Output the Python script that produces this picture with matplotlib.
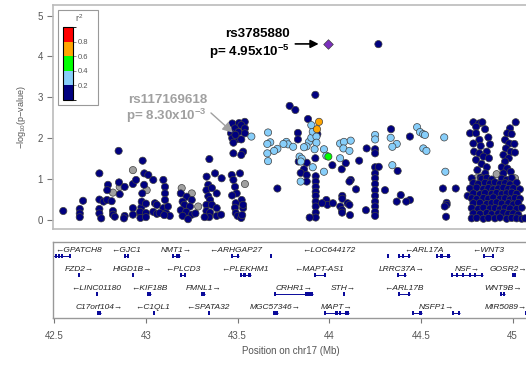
import numpy as np
import matplotlib
matplotlib.use("Agg")
import matplotlib.pyplot as plt
from matplotlib.colors import ListedColormap, BoundaryNorm
from matplotlib.cm import ScalarMappable
from matplotlib.patches import Rectangle

plt.rcParams["font.family"] = ["Liberation Sans", "DejaVu Sans"]
plt.rcParams["mathtext.fontset"] = "custom"
plt.rcParams["mathtext.rm"] = "Liberation Sans"
plt.rcParams["mathtext.bf"] = "Liberation Sans:bold"

# labelled SNPs
lead_name, lead_pos, lead_p = "rs3785880", 43.995, 4.95e-5
snp2_name, snp2_pos, snp2_p = "rs117169618", 43.488, 8.30e-3

# LD legend bins
r2_bounds = [0, 0.2, 0.4, 0.6, 0.8, 1.0]
r2_colors = ["#000080", "#87CEFA", "#00FF00", "#FFA500", "#FF0000"]

# (position Mb, -log10 p) per LD class
gray_snps = [
    (42.820, 0.67), (42.857, 0.81), (42.929, 1.22), (43.004, 0.73), (43.195, 0.78),
    (43.250, 0.65), (43.285, 0.33), (43.540, 0.88), (44.804, 1.02), (44.913, 1.12),
    (45.013, 1.02),
]
navy_snps = [
    # 42.5 - 43.0
    (42.549, 0.22), (42.639, 0.27), (42.639, 0.16), (42.639, 0.07), (42.657, 0.47),
    (42.746, 1.14), (42.746, 0.50), (42.746, 0.27), (42.746, 0.16), (42.756, 0.04),
    (42.769, 0.45), (42.788, 0.49), (42.793, 0.86), (42.789, 0.73), (42.813, 0.46),
    (42.820, 0.22), (42.820, 0.13), (42.851, 1.69), (42.853, 0.92), (42.857, 0.63),
    (42.884, 0.81), (42.884, 0.10), (42.929, 0.88), (42.946, 0.98), (42.929, 0.29),
    (42.929, 0.13), (42.969, 0.16), (42.975, 0.31), (42.982, 1.45), (42.830, 0.08),
    (42.880, 0.04),
    # 43.0 - 43.45
    (42.991, 1.14), (43.013, 1.10), (43.040, 0.98), (42.990, 0.86), (42.980, 0.65),
    (42.977, 0.45), (43.000, 0.40), (43.049, 0.41), (43.060, 0.37), (42.968, 0.20),
    (43.000, 0.17), (43.040, 0.20), (43.060, 0.15), (43.095, 0.98), (43.104, 0.81),
    (43.104, 0.65), (43.104, 0.49), (43.095, 0.29), (43.110, 0.17), (43.130, 0.10),
    (43.075, 0.17), (42.970, 0.05), (43.120, 0.33), (43.000, 0.07), (43.100, 0.12),
    (43.190, 0.65), (43.222, 0.57), (43.250, 0.49), (43.200, 0.45), (43.210, 0.37),
    (43.240, 0.33), (43.190, 0.24), (43.220, 0.20), (43.250, 0.13), (43.200, 0.10),
    (43.230, 0.02), (43.270, 0.16),
    (43.346, 1.49), (43.331, 1.06), (43.377, 1.14), (43.413, 1.02), (43.340, 0.86),
    (43.330, 0.73), (43.360, 0.78), (43.386, 0.65), (43.340, 0.58), (43.350, 0.49),
    (43.330, 0.37), (43.360, 0.37), (43.386, 0.29), (43.330, 0.22), (43.350, 0.18),
    (43.386, 0.10), (43.345, 0.07), (43.410, 0.13), (43.320, 0.07),
    # 43.45 - 43.55
    (43.471, 2.36), (43.508, 2.37), (43.486, 2.24), (43.464, 2.12), (43.505, 2.15),
    (43.471, 2.00), (43.500, 1.98), (43.477, 1.89), (43.539, 2.40), (43.520, 2.32),
    (43.540, 2.24), (43.540, 2.12), (43.520, 1.97), (43.477, 1.63), (43.530, 1.67),
    (43.520, 1.59), (43.468, 1.10), (43.513, 1.14), (43.477, 0.98), (43.486, 0.81),
    (43.495, 0.65), (43.470, 0.60), (43.522, 0.49), (43.490, 0.41), (43.486, 0.30),
    (43.530, 0.29), (43.490, 0.17), (43.500, 0.10), (43.520, 0.05), (43.530, 0.37),
    (43.525, 0.12),
    # 43.55 - 44.05
    (43.924, 3.06), (43.784, 2.79), (43.815, 2.69), (43.884, 2.47), (43.829, 2.13),
    (43.829, 1.97), (43.935, 2.10), (43.833, 1.43), (43.877, 1.40), (43.924, 1.51),
    (43.862, 1.24), (43.844, 1.15), (43.877, 1.10), (43.926, 1.07), (43.926, 0.94),
    (43.926, 0.81), (43.926, 0.69), (43.926, 0.59), (43.926, 0.45), (43.926, 0.33),
    (43.926, 0.18), (43.926, 0.06), (43.877, 0.94), (43.717, 0.77), (43.893, 0.06),
    (43.984, 0.49), (43.990, 0.37), (43.960, 0.41), (44.017, 1.34),
    # 44.05 - 44.75
    (44.204, 1.75), (44.163, 1.45), (44.090, 1.39), (44.068, 1.24), (44.250, 1.73),
    (44.250, 1.63), (44.250, 1.29), (44.270, 1.30), (44.250, 1.14), (44.250, 1.02),
    (44.250, 0.88), (44.250, 0.73), (44.250, 0.59), (44.250, 0.45), (44.250, 0.33),
    (44.250, 0.20), (44.250, 0.10), (44.337, 2.22), (44.440, 2.04), (44.373, 1.20),
    (44.304, 0.73), (44.117, 0.98), (44.110, 0.94), (44.146, 0.75), (44.071, 0.59),
    (44.071, 0.52), (44.100, 0.41), (44.110, 0.37), (44.060, 0.33), (44.070, 0.24),
    (44.070, 0.18), (44.113, 0.12), (44.020, 0.41), (44.200, 0.24), (44.390, 0.61),
    (44.368, 0.45), (44.440, 0.49), (44.420, 0.45), (44.268, 4.30), (44.620, 0.77),
    (44.690, 0.77), (44.640, 0.42), (44.640, 0.37), (44.630, 0.33), (44.637, 0.08),
    (44.755, 0.59),
    # 44.75 - 45.1, upper arms
    (44.786, 2.39), (44.817, 2.36), (44.835, 2.39), (44.801, 2.28), (44.768, 2.12),
    (44.801, 2.12), (44.850, 2.22), (44.868, 2.02), (44.819, 1.96), (44.786, 1.87),
    (44.826, 1.81), (44.877, 1.85), (44.790, 1.67), (44.819, 1.63), (44.859, 1.67),
    (44.841, 1.55), (44.801, 1.47), (44.871, 1.51), (44.831, 1.37), (44.859, 1.29),
    (44.808, 1.22), (44.851, 1.14), (44.826, 1.04),
    (45.017, 2.39), (44.986, 2.24), (44.971, 2.12), (44.995, 2.10), (44.959, 1.96),
    (44.982, 1.87), (45.010, 1.86), (44.964, 1.75), (44.990, 1.67), (44.950, 1.59),
    (44.979, 1.51), (44.959, 1.43), (45.013, 1.65), (44.941, 1.29), (44.971, 1.26),
    (44.990, 1.18), (44.950, 1.14),
    # 44.75 - 45.1, dense block
    (44.777, 1.02), (44.831, 1.00), (44.859, 1.03), (44.886, 0.99), (44.941, 1.01),
    (44.968, 0.98), (44.995, 1.03),
    (44.786, 0.90), (44.813, 0.88), (44.850, 0.91), (44.877, 0.89), (44.904, 0.92),
    (44.931, 0.88), (44.959, 0.90), (44.986, 0.87), (45.022, 0.91),
    (44.768, 0.77), (44.804, 0.79), (44.841, 0.76), (44.868, 0.78), (44.895, 0.75),
    (44.922, 0.77), (44.950, 0.79), (44.977, 0.76), (45.004, 0.78), (45.040, 0.75),
    (44.786, 0.65), (44.822, 0.63), (44.850, 0.66), (44.886, 0.64), (44.913, 0.66),
    (44.941, 0.63), (44.968, 0.65), (44.995, 0.67), (45.022, 0.64),
    (44.777, 0.53), (44.804, 0.51), (44.841, 0.54), (44.868, 0.52), (44.895, 0.55),
    (44.931, 0.52), (44.959, 0.53), (44.986, 0.50), (45.013, 0.54), (45.040, 0.52),
    (44.786, 0.41), (44.822, 0.42), (44.859, 0.39), (44.886, 0.41), (44.913, 0.43),
    (44.941, 0.40), (44.977, 0.41), (45.004, 0.38), (45.031, 0.42),
    (44.777, 0.29), (44.813, 0.27), (44.841, 0.30), (44.877, 0.28), (44.904, 0.29),
    (44.931, 0.26), (44.959, 0.30), (44.986, 0.28), (45.022, 0.27), (45.050, 0.30),
    (44.786, 0.16), (44.822, 0.15), (44.859, 0.17), (44.886, 0.14), (44.922, 0.16),
    (44.950, 0.18), (44.977, 0.15), (45.004, 0.16), (45.031, 0.13),
    (44.777, 0.04), (44.804, 0.05), (44.841, 0.03), (44.868, 0.05), (44.904, 0.04),
    (44.931, 0.06), (44.968, 0.03), (44.995, 0.05), (45.022, 0.04), (45.050, 0.03),
    (45.068, 0.04),
]
sky_snps = [
    (43.575, 2.04), (43.666, 2.14), (43.678, 1.90), (43.662, 1.86), (43.717, 1.74),
    (43.699, 1.69), (43.662, 1.63), (43.666, 1.44), (43.766, 1.91), (43.775, 1.85),
    (43.803, 1.79), (43.750, 1.86), (43.889, 1.91), (43.876, 1.80), (43.862, 1.78),
    (43.902, 2.01), (43.910, 2.16), (43.902, 2.32), (43.930, 2.04), (43.930, 1.89),
    (43.920, 1.73), (43.838, 1.55), (43.850, 1.50), (43.845, 1.43), (43.910, 1.29),
    (43.844, 0.94), (43.971, 1.73), (43.984, 1.57), (43.971, 1.18),
    (44.059, 1.87), (44.080, 1.91), (44.117, 1.94), (44.077, 1.75), (44.110, 1.69),
    (44.059, 1.51), (44.250, 2.08), (44.250, 1.97), (44.335, 2.01), (44.368, 1.86),
    (44.344, 1.79), (44.344, 1.34), (44.479, 2.27), (44.495, 2.15), (44.512, 2.10),
    (44.522, 2.08), (44.513, 1.75), (44.530, 1.69), (44.627, 2.02), (44.633, 1.18),
]
green_snps = [(43.995, 1.55)]
orange_snps = [(43.944, 2.40), (43.933, 2.22)]

# genes: name, row, strand, start, end (Mb)
genes = [
    ("GPATCH8", 0, "-", 42.450, 42.586), ("GJC1", 0, "-", 42.879, 42.903),
    ("NMT1", 0, "+", 43.140, 43.186), ("ARHGAP27", 0, "-", 43.465, 43.510),
    ("LOC644172", 0, "-", 43.677, 44.322), ("ARL17A", 0, "-", 44.375, 44.659),
    ("WNT3", 0, "-", 44.839, 44.894),
    ("FZD2", 1, "+", 42.631, 42.640), ("HIGD1B", 1, "+", 42.926, 42.932),
    ("PLCD3", 1, "-", 43.186, 43.213), ("PLEKHM1", 1, "-", 43.513, 43.573),
    ("MAPT-AS1", 1, "-", 43.917, 43.972), ("LRRC37A", 1, "+", 44.370, 44.420),
    ("NSF", 1, "+", 44.665, 44.839), ("GOSR2", 1, "+", 44.997, 45.019),
    ("LINC01180", 2, "-", 42.725, 42.730), ("KIF18B", 2, "-", 43.006, 43.028),
    ("FMNL1", 2, "+", 43.301, 43.323), ("CRHR1", 2, "+", 43.699, 43.913),
    ("STH", 2, "+", 44.073, 44.077), ("ARL17B", 2, "-", 44.375, 44.440),
    ("WNT9B", 2, "+", 44.932, 44.960),
    ("C17orf104", 3, "+", 42.733, 42.755), ("C1QL1", 3, "-", 43.036, 43.041),
    ("SPATA32", 3, "-", 43.337, 43.342), ("MGC57346", 3, "+", 43.693, 43.720),
    ("MAPT", 3, "+", 43.972, 44.108), ("NSFP1", 3, "+", 44.451, 44.713),
    ("MIR5089", 3, "+", 45.065, 45.070),
]
# transcribed spans (row, start, end)
introns = [
    (0, 42.450, 42.586), (0, 42.879, 42.903), (0, 43.140, 43.186), (0, 43.465, 43.510),
    (0, 44.375, 44.440), (0, 44.582, 44.659), (0, 44.839, 44.894),
    (1, 43.186, 43.213), (1, 43.513, 43.573), (1, 43.917, 43.972), (1, 44.370, 44.420),
    (1, 44.665, 44.839),
    (2, 43.006, 43.028), (2, 43.301, 43.323), (2, 43.699, 43.913), (2, 44.375, 44.440),
    (2, 44.932, 44.960),
    (3, 42.733, 42.755), (3, 43.693, 43.720), (3, 43.972, 44.108), (3, 44.451, 44.506),
    (3, 44.669, 44.713),
]
# exons (row, start, end)
exons = [
    (0, 42.503, 42.507), (0, 42.518, 42.523), (0, 42.535, 42.540), (0, 42.580, 42.586),
    (0, 42.879, 42.885), (0, 42.897, 42.903), (0, 43.140, 43.144), (0, 43.165, 43.186),
    (0, 43.465, 43.472), (0, 43.495, 43.510), (0, 43.677, 43.684), (0, 44.315, 44.322),
    (0, 44.375, 44.379), (0, 44.396, 44.410), (0, 44.428, 44.440), (0, 44.582, 44.592),
    (0, 44.605, 44.620), (0, 44.640, 44.659), (0, 44.839, 44.852), (0, 44.889, 44.894),
    (1, 42.631, 42.640), (1, 42.926, 42.932), (1, 43.186, 43.192), (1, 43.205, 43.213),
    (1, 43.513, 43.520), (1, 43.527, 43.545), (1, 43.555, 43.573), (1, 43.917, 43.920),
    (1, 43.969, 43.972), (1, 44.370, 44.378), (1, 44.405, 44.420), (1, 44.665, 44.672),
    (1, 44.690, 44.700), (1, 44.725, 44.735), (1, 44.760, 44.770), (1, 44.790, 44.800),
    (1, 44.830, 44.839), (1, 44.997, 45.019),
    (2, 42.725, 42.730), (2, 43.006, 43.010), (2, 43.018, 43.028), (2, 43.301, 43.323),
    (2, 43.699, 43.704), (2, 43.865, 43.870), (2, 43.880, 43.913), (2, 44.073, 44.077),
    (2, 44.375, 44.382), (2, 44.428, 44.440), (2, 44.932, 44.940), (2, 44.950, 44.960),
    (3, 42.733, 42.755), (3, 43.036, 43.041), (3, 43.337, 43.342), (3, 43.693, 43.720),
    (3, 43.972, 43.976), (3, 44.030, 44.045), (3, 44.055, 44.065), (3, 44.085, 44.108),
    (3, 44.451, 44.458), (3, 44.490, 44.506), (3, 44.669, 44.680), (3, 44.700, 44.713),
    (3, 45.065, 45.070),
]
x_ticks = [42.5, 43, 43.5, 44, 44.5, 45]
x_ticklabels = ["42.5", "43", "43.5", "44", "44.5", "45"]

lead_logp = -np.log10(lead_p)
snp2_logp = -np.log10(snp2_p)

groups = [(gray_snps, np.nan), (navy_snps + [(snp2_pos, snp2_logp)], 0.1),
          (sky_snps, 0.3), (green_snps, 0.5), (orange_snps, 0.7)]
pos, logp, r2 = [], [], []
for pts, r in groups:
    for x, y in pts:
        pos.append(x)
        logp.append(y)
        r2.append(r)

cmap = ListedColormap(r2_colors)
cmap.set_bad("#A0A0A0")
norm = BoundaryNorm(r2_bounds, cmap.N)

W, H = 526, 365
fig = plt.figure(figsize=(W / 100, H / 100), dpi=100)


def px_box(x0, y0, x1, y1):
    return [x0 / W, 1 - y1 / H, (x1 - x0) / W, (y1 - y0) / H]


ax = fig.add_axes(px_box(53, 5, 528, 229))
axg = fig.add_axes(px_box(53, 241.7, 528, 318))
xlim = (42.493, 45.084)
axis_grey = "#555555"
frame_grey = "#BBBBBB"

# association panel
ax.scatter(pos, logp, c=r2, cmap=cmap, norm=norm, s=27, edgecolors="#404040",
           linewidths=0.5, plotnonfinite=True, zorder=3)
ax.scatter([lead_pos], [lead_logp], marker="D", s=24, c="#7B2FBE",
           edgecolors="#404040", linewidths=0.5, zorder=4)
ax.set_xlim(xlim)
ax.set_ylim(-0.22, 5.257)
ax.set_xticks([])
ax.set_yticks(range(6))
ax.tick_params(axis="y", length=4.3, width=0.8, color="#777777",
               labelcolor=axis_grey, labelsize=7, pad=3)
for s in ax.spines.values():
    s.set_color(frame_grey)
    s.set_linewidth(1.2)
ax.set_ylabel("\u2212log$_{10}$(p\u2212value)", fontsize=6.5, color=axis_grey, labelpad=7)

# lead SNP label
ax.annotate("", xy=(lead_pos, lead_logp), xytext=(-23.8, 0), textcoords="offset points",
            arrowprops=dict(arrowstyle="-|>", color="black", lw=1.2,
                            mutation_scale=12, shrinkA=0, shrinkB=7))


def p_label(p):
    exp = int(np.floor(np.log10(p)))
    return "p= %.2fx10$^{\\mathbf{%d}}$" % (p / 10.0 ** exp, exp)


ax.annotate(lead_name, xy=(lead_pos, lead_logp), xytext=(-28, 7.5),
            textcoords="offset points", ha="right", va="center",
            fontsize=9.6, fontweight="bold", color="black")
ax.annotate(p_label(lead_p), xy=(lead_pos, lead_logp), xytext=(-28, -5.8),
            textcoords="offset points", ha="right", va="center",
            fontsize=9.6, fontweight="bold", color="black")

# second labelled SNP
snp2_grey = "#A0A0A0"
ax.annotate("", xy=(snp2_pos, snp2_logp), xytext=(-17.6, 15.8), textcoords="offset points",
            arrowprops=dict(arrowstyle="-|>", color=snp2_grey, lw=1.0,
                            mutation_scale=15, shrinkA=0, shrinkB=2.5))
ax.annotate(snp2_name, xy=(snp2_pos, snp2_logp), xytext=(-20.5, 25),
            textcoords="offset points", ha="right", va="center",
            fontsize=9.6, fontweight="bold", color=snp2_grey)
ax.annotate(p_label(snp2_p), xy=(snp2_pos, snp2_logp), xytext=(-20.5, 13.5),
            textcoords="offset points", ha="right", va="center",
            fontsize=9.6, fontweight="bold", color=snp2_grey)

# r2 legend
ax.add_patch(Rectangle((58 / W, 1 - 105 / H), 40 / W, 95 / H, transform=fig.transFigure,
                       facecolor="white", edgecolor="#999999", lw=0.8, zorder=6))
cax = fig.add_axes(px_box(63, 27, 73, 100))
cb = fig.colorbar(ScalarMappable(norm=norm, cmap=cmap), cax=cax, ticks=[0.2, 0.4, 0.6, 0.8])
cb.outline.set_linewidth(0.8)
cb.ax.tick_params(length=2.5, width=0.5, color="#666666", labelsize=5.5,
                  labelcolor=axis_grey, pad=1)
cb.ax.set_yticklabels(["0.2", "0.4", "0.6", "0.8"])
fig.text(79 / W, 1 - 18 / H, "r$^2$", ha="center", va="center", fontsize=6.5, color=axis_grey)

# gene panel
axg.set_xlim(xlim)
axg.set_ylim(76, 0)
axg.set_yticks([])
axg.set_xticks(x_ticks)
axg.set_xticklabels(x_ticklabels)
axg.tick_params(axis="x", length=3.6, width=0.8, color="#777777",
                labelcolor=axis_grey, labelsize=7, pad=5.5)
for s in axg.spines.values():
    s.set_color("#999999")
    s.set_linewidth(1.0)
axg.set_xlabel("Position on chr17 (Mb)", fontsize=7, color=axis_grey, labelpad=4)

gene_blue = "#0A0A9A"
row_text = lambda r: 8.5 + 19 * r
row_mark = lambda r: 14.3 + 19 * r
for r, a, b in introns:
    axg.plot([a, b], [row_mark(r)] * 2, color=gene_blue, lw=0.7, solid_capstyle="butt")
for r, a, b in exons:
    w = max(b - a, 0.011)
    axg.add_patch(Rectangle((a, row_mark(r) - 1.9), w, 3.8, facecolor=gene_blue,
                            edgecolor="none"))

gene_texts = []
for name, r, strand, a, b in genes:
    label = "\u2190" + name if strand == "-" else name + "\u2192"
    t = axg.text((a + b) / 2, row_text(r), label, ha="center", va="center",
                 fontsize=6.0, style="italic", color="#222222")
    gene_texts.append(t)

# keep gene labels inside the panel
fig.canvas.draw()
renderer = fig.canvas.get_renderer()
pb = axg.get_window_extent(renderer)
scale = (xlim[1] - xlim[0]) / pb.width
for t in gene_texts:
    bb = t.get_window_extent(renderer)
    shift = 0
    if bb.x0 < pb.x0 + 2:
        shift = pb.x0 + 2 - bb.x0
    elif bb.x1 > pb.x1 - 1:
        shift = pb.x1 - 1 - bb.x1
    x, y = t.get_position()
    t.set_position((x + shift * scale, y))

fig.savefig("out.png", dpi=100)
